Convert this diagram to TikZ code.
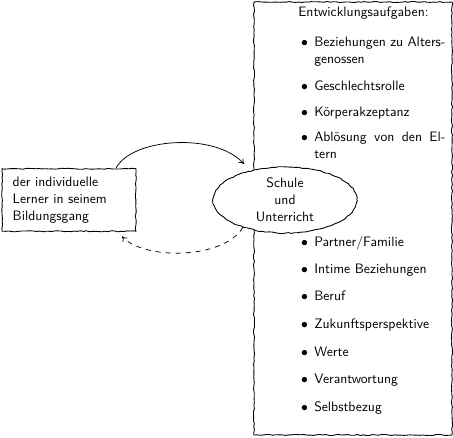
\documentclass[tikz,border=0pt]{standalone}
\usetikzlibrary{decorations.pathmorphing,arrows.meta,shapes.geometric}
\newcommand{\fnt}{\sffamily\fontsize{10.95}{13.6}\selectfont}
\tikzset{
  hand/.style={draw, line width=0.7pt, decorate,
    decoration={random steps, segment length=2.5pt, amplitude=0.45pt}},
  txt/.style={font=\fnt, inner sep=0pt, anchor=base west},
  itm/.style={txt, text width=105pt, align=justify},
  conn/.style={line width=0.6pt, -{To[length=4pt,width=5pt]}},
}
\newcommand{\bul}{\noindent\llap{$\bullet$\hspace{5pt}}}
\begin{document}
\begin{tikzpicture}[x=0.8pt,y=-0.8pt]
\pgfmathsetseed{7}
\useasboundingbox (0,0) rectangle (453,438);
\node[hand, minimum width=158.4pt, minimum height=346.4pt, inner sep=0pt] (tasks) at (353,218.5) {};
\node[txt] (title) at (298,17) {Entwicklungsaufgaben:};
\node[itm] (i1) at (314,47) {\bul Beziehungen zu Alters-\linebreak genossen};
\node[itm] (i2) at (314,91) {\bul Geschlechtsrolle};
\node[itm] (i3) at (314,117) {\bul K\"orperakzeptanz};
\node[itm] (i4) at (314,142) {\bul Abl\"osung von den El-\linebreak tern};
\node[itm] (i5) at (314,247) {\bul Partner/Familie};
\node[itm] (i6) at (314,274) {\bul Intime Beziehungen};
\node[itm] (i7) at (314,301) {\bul Beruf};
\node[itm] (i8) at (314,329) {\bul Zukunftsperspektive};
\node[itm] (i9) at (314,357) {\bul Werte};
\node[itm] (i10) at (314,384) {\bul Verantwortung};
\node[itm] (i11) at (314,412) {\bul Selbstbezug};
\node[hand, fill=white, ellipse, minimum width=115pt, minimum height=53pt,
  inner sep=0pt, align=center, font=\fnt] (schule) at (285,200)
  {Schule\\und\\Unterricht};
\node[hand, minimum width=107pt, minimum height=50pt, inner xsep=8.5pt,
  text width=90pt, align=left, font=\fnt] (lerner) at (69,200)
  {der individuelle\\Lerner in seinem\\Bildungsgang};
\draw[conn, shorten >=7pt] (lerner.34) .. controls +(15,-30) and +(-35,-39) .. (schule.140);
\draw[conn, dash pattern=on 4pt off 4pt, shorten >=5pt] (schule.213) .. controls +(-20,33) and +(25,28) .. (lerner.-33);
\end{tikzpicture}
\end{document}
